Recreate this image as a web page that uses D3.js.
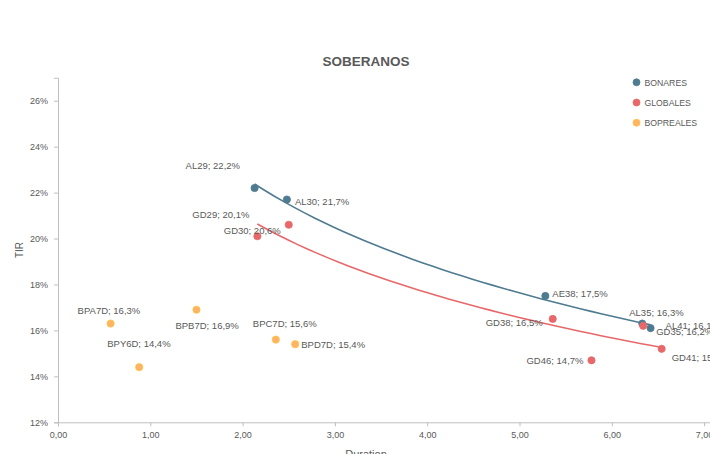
<!DOCTYPE html>
<html>
<head>
<meta charset="utf-8">
<script src="https://cdn.jsdelivr.net/npm/d3@7"></script>
<style>
  body { margin: 0; background: #fff; }
  svg { font-family: "Liberation Sans", Arial, sans-serif; }
</style>
</head>
<body>
<div id="chart"></div>
<script>
// data
let bonaresNames = ["AL29", "AL30", "AE38", "AL35", "AL41"];
let bonaresDur = [2.13, 2.48, 5.28, 6.33, 6.42];
let bonaresTir = [22.2, 21.7, 17.5, 16.3, 16.1];

let globalesNames = ["GD29", "GD30", "GD38", "GD35", "GD46", "GD41"];
let globalesDur = [2.16, 2.50, 5.36, 6.34, 5.78, 6.54];
let globalesTir = [20.1, 20.6, 16.5, 16.2, 14.7, 15.2];

let boprealesNames = ["BPA7D", "BPB7D", "BPY6D", "BPC7D", "BPD7D"];
let boprealesDur = [0.57, 1.50, 0.88, 2.36, 2.57];
let boprealesTir = [16.3, 16.9, 14.4, 15.6, 15.4];

let yTicks = [12, 14, 16, 18, 20, 22, 24, 26];
let xTicks = [0, 1, 2, 3, 4, 5, 6, 7, 8];

// label offsets (placed by hand like in the original)
let labelOffsets = {
  AL29: [-69, -19], AL30: [8, 6], AE38: [7, 1], AL35: [-13, -8], AL41: [15, 1],
  GD29: [-65, -18], GD30: [-65, 9], GD38: [-67, 7], GD35: [13, 9], GD41: [10, 12], GD46: [-65, 4],
  BPA7D: [-33, -10], BPB7D: [-21, 19], BPY6D: [-32, -20], BPC7D: [-23, -13], BPD7D: [6, 4]
};

let w = 710, h = 454;
let fmt = d3.format(".1f");
let comma = s => s.replace(".", ",");

let viz = d3.select("#chart").append("svg")
  .attr("width", w)
  .attr("height", h);

let x = d3.scaleLinear().domain([0, 8]).range([58, 58 + 92.3 * 8]);
let y = d3.scaleLinear().domain([12, 27]).range([422.3, 422.3 - 22.97 * 15]);

// axes
let xAxis = viz.append("g")
  .attr("transform", "translate(0,422.3)")
  .call(d3.axisBottom(x).tickValues(xTicks).tickSize(4).tickPadding(5)
    .tickFormat(d => comma(d3.format(".2f")(d))));
let yAxis = viz.append("g")
  .attr("transform", "translate(58,0)")
  .call(d3.axisLeft(y).tickValues(yTicks).tickSize(4).tickPadding(6)
    .tickFormat(d => d + "%"));
viz.selectAll(".domain, .tick line").attr("stroke", "#bfbfbf");
viz.selectAll(".tick text").attr("fill", "#595959").attr("font-size", 9)
  .attr("font-family", "Liberation Sans, Arial, sans-serif");

// titles
viz.append("text")
  .text("SOBERANOS")
  .attr("x", 366).attr("y", 65.5)
  .attr("text-anchor", "middle")
  .attr("font-size", 13.5).attr("font-weight", "bold")
  .attr("fill", "#595959");
viz.append("text")
  .text("TIR")
  .attr("transform", "translate(23,250) rotate(-90)")
  .attr("text-anchor", "middle")
  .attr("font-size", 10).attr("fill", "#595959");
viz.append("text")
  .text("Duration")
  .attr("x", 366).attr("y", 458)
  .attr("text-anchor", "middle")
  .attr("font-size", 11).attr("fill", "#595959");

let series = [
  { name: "BONARES", color: "#4f7b90", stroke: "#4f7b90", names: bonaresNames, dur: bonaresDur, tir: bonaresTir, trend: true },
  { name: "GLOBALES", color: "#e8686a", stroke: "#e8686a", names: globalesNames, dur: globalesDur, tir: globalesTir, trend: true },
  { name: "BOPREALES", color: "#ffb366", stroke: "#ffc23d", names: boprealesNames, dur: boprealesDur, tir: boprealesTir, trend: false }
];

// logarithmic trendline (least squares on ln x)
function logFit(xs, ys) {
  let lx = xs.map(Math.log);
  let mx = d3.mean(lx), my = d3.mean(ys);
  let sxy = d3.sum(lx, (v, i) => (v - mx) * (ys[i] - my));
  let sxx = d3.sum(lx, v => (v - mx) * (v - mx));
  let b = sxy / sxx;
  let a = my - b * mx;
  return v => a + b * Math.log(v);
}

let line = d3.line().x(d => x(d[0])).y(d => y(d[1]));

series.forEach(function(s) {
  if (s.trend) {
    let f = logFit(s.dur, s.tir);
    let x0 = d3.min(s.dur), x1 = d3.max(s.dur);
    let pts = d3.range(0, 41).map(i => {
      let v = x0 + (x1 - x0) * i / 40;
      return [v, f(v)];
    });
    viz.append("path")
      .attr("d", line(pts))
      .attr("fill", "none")
      .attr("stroke", s.color)
      .attr("stroke-width", 1.6);
  }
});

series.forEach(function(s) {
  let data = s.names.map((n, i) => ({ name: n, dur: s.dur[i], tir: s.tir[i] }));
  let g = viz.selectAll(".g-" + s.name)
    .data(data)
    .enter()
    .append("g");
  g.append("circle")
    .attr("cx", d => x(d.dur))
    .attr("cy", d => y(d.tir))
    .attr("r", 3.6)
    .attr("fill", s.color)
    .attr("stroke", s.stroke)
    .attr("stroke-width", 0.8);
  g.append("text")
    .text(d => d.name + "; " + comma(fmt(d.tir)) + "%")
    .attr("x", d => x(d.dur) + labelOffsets[d.name][0])
    .attr("y", d => y(d.tir) + labelOffsets[d.name][1])
    .attr("font-size", 9.5)
    .attr("fill", "#595959");
});

// legend
series.forEach(function(s, i) {
  viz.append("circle")
    .attr("cx", 636.5).attr("cy", 82.3 + i * 20.2)
    .attr("r", 3.5)
    .attr("fill", s.color)
    .attr("stroke", s.stroke)
    .attr("stroke-width", 0.8);
  viz.append("text")
    .text(s.name)
    .attr("x", 644.5).attr("y", 85.5 + i * 20.2)
    .attr("font-size", 8.7)
    .attr("fill", "#595959");
});
</script>
</body>
</html>
